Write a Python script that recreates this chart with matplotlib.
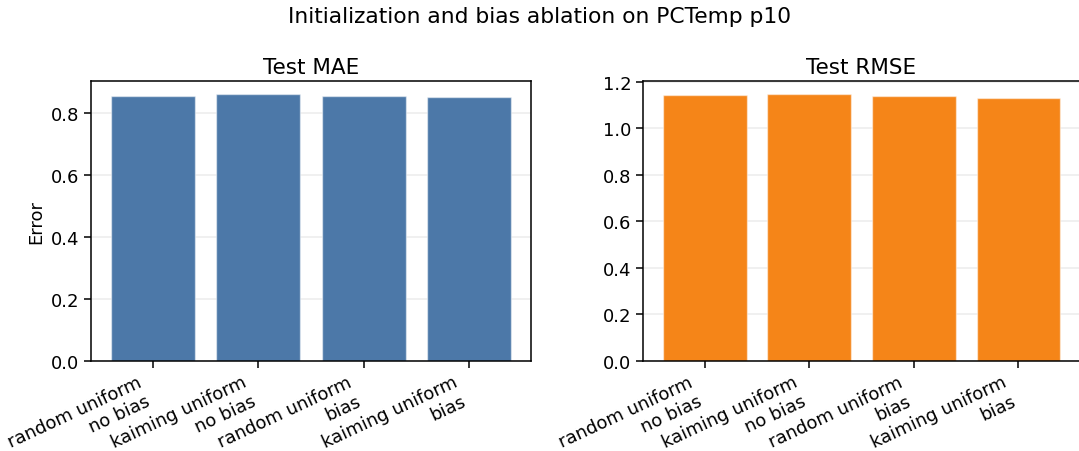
import matplotlib
matplotlib.use("Agg")
import matplotlib.pyplot as plt

categories = ["random uniform\nno bias", "kaiming uniform\nno bias",
              "random uniform\nbias", "kaiming uniform\nbias"]
mae = [0.855, 0.861, 0.855, 0.851]
rmse = [1.140, 1.145, 1.137, 1.129]

plt.rcParams["axes.linewidth"] = 1.1
fig = plt.figure(figsize=(10.79, 4.52), dpi=100)
ax1 = fig.add_axes([91/1079, 1-362/452, 440/1079, 280/452])
ax2 = fig.add_axes([643/1079, 1-362/452, 437/1079, 280/452])

for ax, vals, color, title in [(ax1, mae, "#4C78A8", "Test MAE"),
                               (ax2, rmse, "#F58518", "Test RMSE")]:
    x = range(len(categories))
    ax.yaxis.grid(True, color="#eeeeee", linewidth=1.2)
    ax.set_axisbelow(True)
    ax.bar(x, vals, width=0.8, color=color, edgecolor="#ffffff80", linewidth=1.0)
    ax.set_xticks(list(x))
    ax.set_xticklabels(categories, rotation=25, ha="right", fontsize=13)
    ax.tick_params(axis="y", labelsize=13)
    ax.tick_params(length=5, width=1.1)
    ax.set_title(title, fontsize=15.5)

ax1.set_ylabel("Error", fontsize=13)
ax1.set_yticks([0.0, 0.2, 0.4, 0.6, 0.8])
ax2.set_yticks([0.0, 0.2, 0.4, 0.6, 0.8, 1.0, 1.2])
fig.suptitle("Initialization and bias ablation on PCTemp p10", fontsize=15.7, y=0.985)
fig.savefig("out.png", dpi=100)
